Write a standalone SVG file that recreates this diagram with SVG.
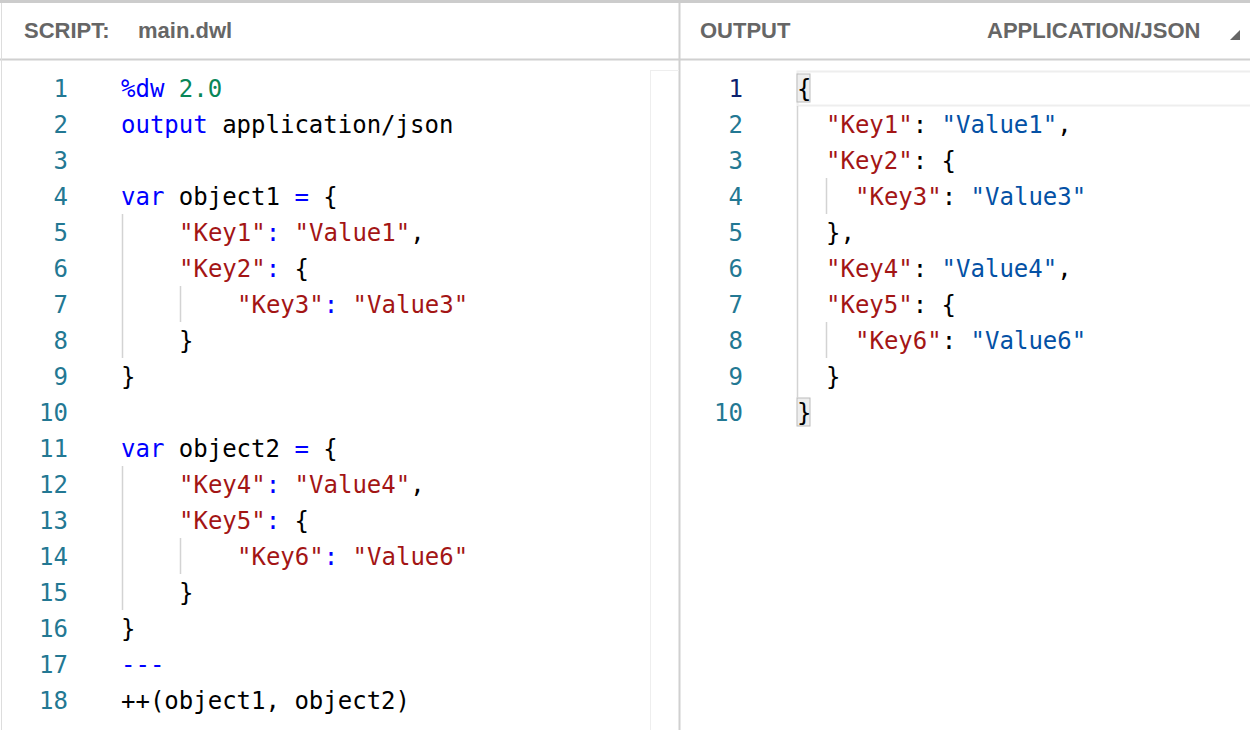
<svg xmlns="http://www.w3.org/2000/svg" width="1250" height="730" viewBox="0 0 1250 730">
<style>
.h{font-family:"Liberation Sans",Arial,sans-serif;font-weight:bold;font-size:22px;fill:#666}
.c{font-family:"DejaVu Sans Mono",monospace;font-size:24px;fill:#000;white-space:pre}
.n{font-family:"DejaVu Sans Mono",monospace;font-size:24px;fill:#237893;text-anchor:end}
.k{fill:#0000ff}.g{fill:#098658}.s{fill:#a31515}.v{fill:#0451a5}
.ig{stroke:#d3d3d3;stroke-width:1.5}
</style>
<rect width="1250" height="730" fill="#fff"/>
<rect width="1250" height="3" fill="#ccc"/>
<rect x="0" y="3" width="1250" height="56" fill="#fff"/>
<line x1="0" y1="59.5" x2="1250" y2="59.5" stroke="#d0d0d0" stroke-width="2"/>
<line x1="679.5" y1="3" x2="679.5" y2="730" stroke="#d0d0d0" stroke-width="2"/>
<line x1="1.5" y1="3" x2="1.5" y2="730" stroke="#ddd"/>
<text class="h" x="24" y="38">SCRIPT:</text>
<text class="h" x="138" y="38">main.dwl</text>
<text class="h" x="700" y="38">OUTPUT</text>
<text class="h" x="987" y="38">APPLICATION/JSON</text>
<polygon points="1240,30 1240,40 1230,40" fill="#666"/>
<line x1="650.5" y1="70" x2="650.5" y2="730" stroke="#eee"/>
<line x1="650" y1="70.5" x2="679" y2="70.5" stroke="#eee"/>
<g id="script">
<g class="n">
<text x="68" y="97">1</text><text x="68" y="133">2</text><text x="68" y="169">3</text><text x="68" y="205">4</text><text x="68" y="241">5</text><text x="68" y="277">6</text><text x="68" y="313">7</text><text x="68" y="349">8</text><text x="68" y="385">9</text><text x="68" y="421">10</text><text x="68" y="457">11</text><text x="68" y="493">12</text><text x="68" y="529">13</text><text x="68" y="565">14</text><text x="68" y="601">15</text><text x="68" y="637">16</text><text x="68" y="673">17</text><text x="68" y="709">18</text>
</g>
<line class="ig" x1="122.5" y1="214" x2="122.5" y2="358"/>
<line class="ig" x1="180.5" y1="286" x2="180.5" y2="322"/>
<line class="ig" x1="122.5" y1="466" x2="122.5" y2="610"/>
<line class="ig" x1="180.5" y1="538" x2="180.5" y2="574"/>
<text class="c" x="121" y="97"><tspan class="k">%dw</tspan> <tspan class="g">2.0</tspan></text>
<text class="c" x="121" y="133"><tspan class="k">output</tspan> application/json</text>
<text class="c" x="121" y="205"><tspan class="k">var</tspan> object1 <tspan class="k">=</tspan> {</text>
<text class="c" x="179" y="241"><tspan class="s">"Key1"</tspan><tspan class="k">:</tspan> <tspan class="s">"Value1"</tspan>,</text>
<text class="c" x="179" y="277"><tspan class="s">"Key2"</tspan><tspan class="k">:</tspan> {</text>
<text class="c" x="237" y="313"><tspan class="s">"Key3"</tspan><tspan class="k">:</tspan> <tspan class="s">"Value3"</tspan></text>
<text class="c" x="179" y="349">}</text>
<text class="c" x="121" y="385">}</text>
<text class="c" x="121" y="457"><tspan class="k">var</tspan> object2 <tspan class="k">=</tspan> {</text>
<text class="c" x="179" y="493"><tspan class="s">"Key4"</tspan><tspan class="k">:</tspan> <tspan class="s">"Value4"</tspan>,</text>
<text class="c" x="179" y="529"><tspan class="s">"Key5"</tspan><tspan class="k">:</tspan> {</text>
<text class="c" x="237" y="565"><tspan class="s">"Key6"</tspan><tspan class="k">:</tspan> <tspan class="s">"Value6"</tspan></text>
<text class="c" x="179" y="601">}</text>
<text class="c" x="121" y="637">}</text>
<text class="c k" x="121" y="673">---</text>
<text class="c" x="121" y="709">++(object1, object2)</text>
</g>
<g id="output">
<rect x="797.5" y="71.5" width="460" height="34" fill="none" stroke="#eee" stroke-width="2"/>
<rect x="797" y="74" width="13" height="28" fill="#eee" stroke="#bbb"/>
<rect x="797" y="398" width="13" height="28" fill="#eee" stroke="#bbb"/>
<line class="ig" x1="797.5" y1="106" x2="797.5" y2="398"/>
<line class="ig" x1="826.5" y1="178" x2="826.5" y2="214"/>
<line class="ig" x1="826.5" y1="322" x2="826.5" y2="358"/>
<g class="n">
<text x="743" y="97" fill="#0b216f" style="fill:#0b216f">1</text><text x="743" y="133">2</text><text x="743" y="169">3</text><text x="743" y="205">4</text><text x="743" y="241">5</text><text x="743" y="277">6</text><text x="743" y="313">7</text><text x="743" y="349">8</text><text x="743" y="385">9</text><text x="743" y="421">10</text>
</g>
<text class="c" x="797" y="97">{</text>
<text class="c" x="826" y="133"><tspan class="s">"Key1"</tspan>: <tspan class="v">"Value1"</tspan>,</text>
<text class="c" x="826" y="169"><tspan class="s">"Key2"</tspan>: {</text>
<text class="c" x="855" y="205"><tspan class="s">"Key3"</tspan>: <tspan class="v">"Value3"</tspan></text>
<text class="c" x="826" y="241">},</text>
<text class="c" x="826" y="277"><tspan class="s">"Key4"</tspan>: <tspan class="v">"Value4"</tspan>,</text>
<text class="c" x="826" y="313"><tspan class="s">"Key5"</tspan>: {</text>
<text class="c" x="855" y="349"><tspan class="s">"Key6"</tspan>: <tspan class="v">"Value6"</tspan></text>
<text class="c" x="826" y="385">}</text>
<text class="c" x="797" y="421">}</text>
</g>
</svg>
